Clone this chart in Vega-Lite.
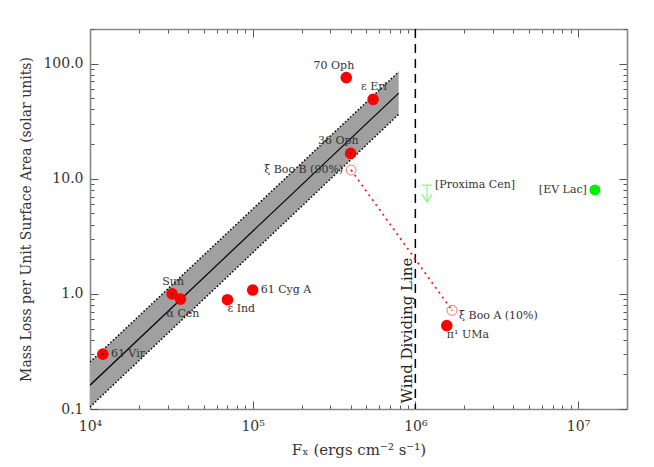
{
  "$schema": "https://vega.github.io/schema/vega-lite/v6.json",
  "width": 537,
  "height": 380,
  "autosize": {"type": "none"},
  "padding": {"left": 90, "top": 29, "right": 27, "bottom": 58},
  "background": "white",
  "config": {
    "view": {"stroke": null},
    "axis": {"grid": false, "domainColor": "#888888", "domainWidth": 1.6, "tickColor": "#555555", "tickWidth": 1}
  },
  "datasets": {
    "stars": [
      {"name": "61 Vir", "fx": 12000, "mdot": 0.30, "kind": "filled"},
      {"name": "Sun", "fx": 32000, "mdot": 1.0, "kind": "filled"},
      {"name": "α Cen", "fx": 36000, "mdot": 0.90, "kind": "filled"},
      {"name": "ε Ind", "fx": 70000, "mdot": 0.89, "kind": "filled"},
      {"name": "61 Cyg A", "fx": 100000, "mdot": 1.08, "kind": "filled"},
      {"name": "70 Oph", "fx": 376000, "mdot": 75.7, "kind": "filled"},
      {"name": "ε Eri", "fx": 550000, "mdot": 49, "kind": "filled"},
      {"name": "36 Oph", "fx": 400000, "mdot": 16.6, "kind": "filled"},
      {"name": "ξ Boo B (90%)", "fx": 403000, "mdot": 11.9, "kind": "open"},
      {"name": "ξ Boo A (10%)", "fx": 1680000, "mdot": 0.72, "kind": "open"},
      {"name": "π¹ UMa", "fx": 1560000, "mdot": 0.53, "kind": "filled"},
      {"name": "[EV Lac]", "fx": 12700000, "mdot": 8.0, "kind": "green"},
      {"name": "[Proxima Cen]", "fx": 1180000, "mdot": 8.8, "kind": "limit"}
    ],
    "fit": [
      {"fx": 10000, "fit": 0.161, "lo": 0.104, "hi": 0.256},
      {"fx": 790000, "fit": 55.5, "lo": 36.3, "hi": 85}
    ],
    "wind": [
      {"fx": 1000000, "label": "Wind Dividing Line"}
    ]
  },
  "layer": [
    {
      "data": {"name": "fit"},
      "mark": {"type": "area", "color": "#a0a0a0", "opacity": 1, "clip": true},
      "encoding": {
        "x": {
          "field": "fx", "type": "quantitative",
          "scale": {"type": "log", "domain": [10000, 20000000], "nice": false},
          "axis": {
            "orient": "bottom",
            "values": [10000,20000,30000,40000,50000,60000,70000,80000,90000,100000,200000,300000,400000,500000,600000,700000,800000,900000,1000000,2000000,3000000,4000000,5000000,6000000,7000000,8000000,9000000,10000000,20000000],
            "labelExpr": "abs(log(datum.value)/LN10 - round(log(datum.value)/LN10)) < 0.001 ? '10' + ['⁰','¹','²','³','⁴','⁵','⁶','⁷','⁸','⁹'][round(log(datum.value)/LN10)] : ''",
            "tickSize": {"condition": {"test": "abs(log(datum.value)/LN10 - round(log(datum.value)/LN10)) < 0.001", "value": -8}, "value": -4},
            "labelPadding": 18,
            "labelFlush": false,
            "labelOverlap": false,
            "labelFont": "DejaVu Serif",
            "labelFontSize": 14,
            "labelColor": "#333333",
            "title": "Fₓ (ergs cm⁻² s⁻¹)",
            "titleFont": "DejaVu Serif",
            "titleFontSize": 15,
            "titleFontWeight": "normal",
            "titleColor": "#333333",
            "titlePadding": 5
          }
        },
        "y": {
          "field": "lo", "type": "quantitative",
          "scale": {"type": "log", "domain": [0.1, 200], "nice": false},
          "axis": {
            "orient": "left",
            "values": [0.1,0.2,0.3,0.4,0.5,0.6,0.7,0.8,0.9,1,2,3,4,5,6,7,8,9,10,20,30,40,50,60,70,80,90,100,200],
            "labelExpr": "abs(log(datum.value)/LN10 - round(log(datum.value)/LN10)) < 0.001 ? format(datum.value, '.1f') : ''",
            "tickSize": {"condition": {"test": "abs(log(datum.value)/LN10 - round(log(datum.value)/LN10)) < 0.001", "value": -8}, "value": -4},
            "labelPadding": 15,
            "labelFlush": false,
            "labelOverlap": false,
            "labelFont": "DejaVu Serif",
            "labelFontSize": 14,
            "labelColor": "#333333",
            "title": "Mass Loss per Unit Surface Area (solar units)",
            "titleFont": "DejaVu Serif",
            "titleFontSize": 14,
            "titleFontWeight": "normal",
            "titleColor": "#333333",
            "titlePadding": 9
          }
        },
        "y2": {"field": "hi"}
      }
    },
    {
      "data": {"name": "fit"},
      "mark": {"type": "line", "color": "black", "strokeDash": [1.5, 2], "strokeWidth": 1.5, "clip": true},
      "encoding": {
        "x": {"field": "fx", "type": "quantitative", "scale": {"type": "log", "domain": [10000, 20000000], "nice": false}, "axis": null},
        "y": {"field": "lo", "type": "quantitative", "scale": {"type": "log", "domain": [0.1, 200], "nice": false}, "axis": null}
      }
    },
    {
      "data": {"name": "fit"},
      "mark": {"type": "line", "color": "black", "strokeDash": [1.5, 2], "strokeWidth": 1.5, "clip": true},
      "encoding": {
        "x": {"field": "fx", "type": "quantitative", "scale": {"type": "log", "domain": [10000, 20000000], "nice": false}, "axis": null},
        "y": {"field": "hi", "type": "quantitative", "scale": {"type": "log", "domain": [0.1, 200], "nice": false}, "axis": null}
      }
    },
    {
      "data": {"name": "fit"},
      "mark": {"type": "line", "color": "black", "strokeWidth": 1.2, "clip": true},
      "encoding": {
        "x": {
          "field": "fx", "type": "quantitative",
          "scale": {"type": "log", "domain": [10000, 20000000], "nice": false},
          "axis": {
            "orient": "top",
            "values": [10000,20000,30000,40000,50000,60000,70000,80000,90000,100000,200000,300000,400000,500000,600000,700000,800000,900000,1000000,2000000,3000000,4000000,5000000,6000000,7000000,8000000,9000000,10000000,20000000],
            "labels": false,
            "tickSize": {"condition": {"test": "abs(log(datum.value)/LN10 - round(log(datum.value)/LN10)) < 0.001", "value": -8}, "value": -4},
            "title": null
          }
        },
        "y": {
          "field": "fit", "type": "quantitative",
          "scale": {"type": "log", "domain": [0.1, 200], "nice": false},
          "axis": {
            "orient": "right",
            "values": [0.1,0.2,0.3,0.4,0.5,0.6,0.7,0.8,0.9,1,2,3,4,5,6,7,8,9,10,20,30,40,50,60,70,80,90,100,200],
            "labels": false,
            "tickSize": {"condition": {"test": "abs(log(datum.value)/LN10 - round(log(datum.value)/LN10)) < 0.001", "value": -8}, "value": -4},
            "title": null
          }
        }
      }
    },
    {
      "data": {"name": "wind"},
      "mark": {"type": "rule", "color": "black", "strokeDash": [9, 6], "strokeWidth": 1.5},
      "encoding": {
        "x": {"field": "fx", "type": "quantitative", "scale": {"type": "log", "domain": [10000, 20000000], "nice": false}, "axis": null}
      }
    },
    {
      "data": {"name": "wind"},
      "mark": {"type": "text", "angle": 270, "align": "center", "baseline": "alphabetic", "dy": -3, "font": "DejaVu Serif", "fontSize": 15, "color": "#222222"},
      "encoding": {
        "x": {"field": "fx", "type": "quantitative", "scale": {"type": "log", "domain": [10000, 20000000], "nice": false}, "axis": null},
        "y": {"datum": 0.48, "type": "quantitative", "scale": {"type": "log", "domain": [0.1, 200], "nice": false}, "axis": null},
        "text": {"field": "label"}
      }
    },
    {
      "data": {"name": "stars"},
      "transform": [{"filter": {"field": "kind", "equal": "open"}}],
      "mark": {"type": "line", "color": "#ff2020", "strokeDash": [2, 4], "strokeWidth": 1.8},
      "encoding": {
        "x": {"field": "fx", "type": "quantitative", "scale": {"type": "log", "domain": [10000, 20000000], "nice": false}, "axis": null},
        "y": {"field": "mdot", "type": "quantitative", "scale": {"type": "log", "domain": [0.1, 200], "nice": false}, "axis": null}
      }
    },
    {
      "data": {"name": "stars"},
      "transform": [{"filter": {"field": "kind", "equal": "filled"}}],
      "mark": {"type": "point", "shape": "circle", "filled": true, "color": "#ff0000", "opacity": 1, "size": 135},
      "encoding": {
        "x": {"field": "fx", "type": "quantitative", "scale": {"type": "log", "domain": [10000, 20000000], "nice": false}, "axis": null},
        "y": {"field": "mdot", "type": "quantitative", "scale": {"type": "log", "domain": [0.1, 200], "nice": false}, "axis": null}
      }
    },
    {
      "data": {"name": "stars"},
      "transform": [{"filter": {"field": "name", "oneOf": ["61 Vir", "Sun", "ε Eri", "36 Oph"]}}],
      "mark": {"type": "point", "shape": "circle", "filled": true, "color": "#000000", "opacity": 1, "size": 3},
      "encoding": {
        "x": {"field": "fx", "type": "quantitative", "scale": {"type": "log", "domain": [10000, 20000000], "nice": false}, "axis": null},
        "y": {"field": "mdot", "type": "quantitative", "scale": {"type": "log", "domain": [0.1, 200], "nice": false}, "axis": null}
      }
    },
    {
      "data": {"name": "stars"},
      "transform": [{"filter": {"field": "kind", "equal": "open"}}],
      "mark": {"type": "point", "shape": "circle", "filled": false, "color": "#ff7070", "opacity": 1, "size": 100, "strokeWidth": 1},
      "encoding": {
        "x": {"field": "fx", "type": "quantitative", "scale": {"type": "log", "domain": [10000, 20000000], "nice": false}, "axis": null},
        "y": {"field": "mdot", "type": "quantitative", "scale": {"type": "log", "domain": [0.1, 200], "nice": false}, "axis": null}
      }
    },
    {
      "data": {"name": "stars"},
      "transform": [{"filter": {"field": "kind", "equal": "open"}}],
      "mark": {"type": "point", "shape": "circle", "filled": true, "color": "#ff5050", "opacity": 1, "size": 3},
      "encoding": {
        "x": {"field": "fx", "type": "quantitative", "scale": {"type": "log", "domain": [10000, 20000000], "nice": false}, "axis": null},
        "y": {"field": "mdot", "type": "quantitative", "scale": {"type": "log", "domain": [0.1, 200], "nice": false}, "axis": null}
      }
    },
    {
      "data": {"name": "stars"},
      "transform": [{"filter": {"field": "kind", "equal": "green"}}],
      "mark": {"type": "point", "shape": "circle", "filled": true, "color": "#00ee00", "opacity": 1, "size": 120},
      "encoding": {
        "x": {"field": "fx", "type": "quantitative", "scale": {"type": "log", "domain": [10000, 20000000], "nice": false}, "axis": null},
        "y": {"field": "mdot", "type": "quantitative", "scale": {"type": "log", "domain": [0.1, 200], "nice": false}, "axis": null}
      }
    },
    {
      "data": {"name": "stars"},
      "transform": [{"filter": {"field": "kind", "equal": "limit"}}],
      "mark": {"type": "point", "shape": "M -0.6 0 L 0.6 0 M 0 0 L 0 2 M -0.6 1.05 L 0 2 L 0.6 1.05", "filled": false, "color": "#80ff80", "opacity": 1, "size": 289, "strokeWidth": 1.2},
      "encoding": {
        "x": {"field": "fx", "type": "quantitative", "scale": {"type": "log", "domain": [10000, 20000000], "nice": false}, "axis": null},
        "y": {"field": "mdot", "type": "quantitative", "scale": {"type": "log", "domain": [0.1, 200], "nice": false}, "axis": null}
      }
    },
    {
      "data": {"name": "stars"},
      "transform": [{"filter": {"field": "name", "oneOf": ["61 Vir", "61 Cyg A", "[Proxima Cen]"]}}],
      "mark": {"type": "text", "align": "left", "baseline": "middle", "dx": 8, "font": "DejaVu Serif", "fontSize": 11, "color": "#333333"},
      "encoding": {
        "x": {"field": "fx", "type": "quantitative", "scale": {"type": "log", "domain": [10000, 20000000], "nice": false}, "axis": null},
        "y": {"field": "mdot", "type": "quantitative", "scale": {"type": "log", "domain": [0.1, 200], "nice": false}, "axis": null},
        "text": {"field": "name"}
      }
    },
    {
      "data": {"name": "stars"},
      "transform": [{"filter": {"field": "name", "equal": "ξ Boo A (10%)"}}],
      "mark": {"type": "text", "align": "left", "baseline": "middle", "dx": 7, "dy": 6, "font": "DejaVu Serif", "fontSize": 11, "color": "#333333"},
      "encoding": {
        "x": {"field": "fx", "type": "quantitative", "scale": {"type": "log", "domain": [10000, 20000000], "nice": false}, "axis": null},
        "y": {"field": "mdot", "type": "quantitative", "scale": {"type": "log", "domain": [0.1, 200], "nice": false}, "axis": null},
        "text": {"field": "name"}
      }
    },
    {
      "data": {"name": "stars"},
      "transform": [{"filter": {"field": "name", "oneOf": ["[EV Lac]", "ξ Boo B (90%)"]}}],
      "mark": {"type": "text", "align": "right", "baseline": "middle", "dx": -8, "font": "DejaVu Serif", "fontSize": 11, "color": "#333333"},
      "encoding": {
        "x": {"field": "fx", "type": "quantitative", "scale": {"type": "log", "domain": [10000, 20000000], "nice": false}, "axis": null},
        "y": {"field": "mdot", "type": "quantitative", "scale": {"type": "log", "domain": [0.1, 200], "nice": false}, "axis": null},
        "text": {"field": "name"}
      }
    },
    {
      "data": {"name": "stars"},
      "transform": [{"filter": {"field": "name", "oneOf": ["ε Eri", "Sun"]}}],
      "mark": {"type": "text", "align": "center", "baseline": "middle", "dx": 1, "dy": -12, "font": "DejaVu Serif", "fontSize": 11, "color": "#333333"},
      "encoding": {
        "x": {"field": "fx", "type": "quantitative", "scale": {"type": "log", "domain": [10000, 20000000], "nice": false}, "axis": null},
        "y": {"field": "mdot", "type": "quantitative", "scale": {"type": "log", "domain": [0.1, 200], "nice": false}, "axis": null},
        "text": {"field": "name"}
      }
    },
    {
      "data": {"name": "stars"},
      "transform": [{"filter": {"field": "name", "oneOf": ["70 Oph", "36 Oph"]}}],
      "mark": {"type": "text", "align": "right", "baseline": "middle", "dx": 8, "dy": -12, "font": "DejaVu Serif", "fontSize": 11, "color": "#333333"},
      "encoding": {
        "x": {"field": "fx", "type": "quantitative", "scale": {"type": "log", "domain": [10000, 20000000], "nice": false}, "axis": null},
        "y": {"field": "mdot", "type": "quantitative", "scale": {"type": "log", "domain": [0.1, 200], "nice": false}, "axis": null},
        "text": {"field": "name"}
      }
    },
    {
      "data": {"name": "stars"},
      "transform": [{"filter": {"field": "name", "oneOf": ["ε Ind", "π¹ UMa"]}}],
      "mark": {"type": "text", "align": "left", "baseline": "middle", "dx": 0, "dy": 9, "font": "DejaVu Serif", "fontSize": 11, "color": "#333333"},
      "encoding": {
        "x": {"field": "fx", "type": "quantitative", "scale": {"type": "log", "domain": [10000, 20000000], "nice": false}, "axis": null},
        "y": {"field": "mdot", "type": "quantitative", "scale": {"type": "log", "domain": [0.1, 200], "nice": false}, "axis": null},
        "text": {"field": "name"}
      }
    },
    {
      "data": {"name": "stars"},
      "transform": [{"filter": {"field": "name", "equal": "α Cen"}}],
      "mark": {"type": "text", "align": "left", "baseline": "middle", "dx": -14, "dy": 15, "font": "DejaVu Serif", "fontSize": 11, "color": "#333333"},
      "encoding": {
        "x": {"field": "fx", "type": "quantitative", "scale": {"type": "log", "domain": [10000, 20000000], "nice": false}, "axis": null},
        "y": {"field": "mdot", "type": "quantitative", "scale": {"type": "log", "domain": [0.1, 200], "nice": false}, "axis": null},
        "text": {"field": "name"}
      }
    }
  ],
  "resolve": {"axis": {"x": "independent", "y": "independent"}}
}
